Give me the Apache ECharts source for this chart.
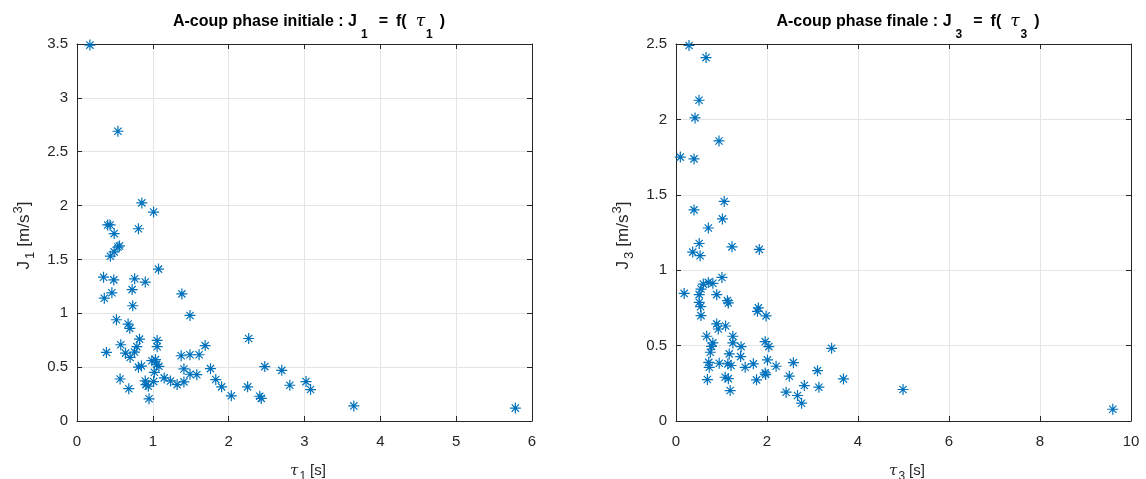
<!DOCTYPE html>
<html>
<head>
<meta charset="utf-8">
<script src="https://cdn.jsdelivr.net/npm/echarts@6/dist/echarts.min.js"></script>
<style>
html,body{margin:0;padding:0;background:#fff;}
#c{width:1146px;height:479px;}
</style>
</head>
<body>
<div id="c"></div>
<script>
// Left: initial phase
const tau1 = [0.17, 0.54, 0.855, 1.01, 0.405, 0.436, 0.49, 0.81, 0.54, 0.56,
  0.49, 0.44, 1.075, 0.35, 0.485, 0.76, 0.9, 0.46, 0.727, 0.36,
  0.735, 1.383, 1.49, 0.52, 0.674, 0.696, 2.264, 1.057, 0.824, 1.057,
  0.577, 1.69, 0.388, 0.79, 0.758, 0.64, 0.70, 1.374, 1.49, 1.61,
  0.987, 1.035, 0.81, 0.85, 1.05, 1.08, 1.02, 2.476, 1.76, 1.41,
  2.70, 1.49, 1.58, 0.568, 1.15, 1.233, 0.9, 1.01, 1.83, 1.32,
  1.41, 0.91, 0.94, 2.806, 3.02, 3.08, 0.683, 1.907, 2.25, 2.035,
  2.41, 2.43, 0.95, 3.65, 5.78];
const j1 = [3.49, 2.69, 2.025, 1.94, 1.82, 1.82, 1.74, 1.785, 1.615, 1.625,
  1.57, 1.53, 1.41, 1.335, 1.31, 1.32, 1.29, 1.19, 1.22, 1.14,
  1.07, 1.18, 0.98, 0.94, 0.90, 0.86, 0.766, 0.748, 0.76, 0.69,
  0.708, 0.70, 0.637, 0.69, 0.64, 0.63, 0.59, 0.606, 0.615, 0.615,
  0.56, 0.57, 0.50, 0.51, 0.526, 0.508, 0.452, 0.505, 0.486, 0.483,
  0.47, 0.434, 0.43, 0.39, 0.40, 0.372, 0.372, 0.366, 0.385, 0.338,
  0.363, 0.338, 0.323, 0.332, 0.366, 0.292, 0.30, 0.317, 0.317, 0.234,
  0.23, 0.21, 0.206, 0.14, 0.12];

// Right: final phase
const tau3 = [0.286, 0.66, 0.506, 0.418, 0.945, 0.095, 0.396, 1.06, 0.396, 1.02,
  0.71, 0.51, 0.367, 0.53, 1.23, 1.83, 1.01, 0.18, 0.6, 0.71,
  0.81, 0.55, 0.51, 0.895, 0.51, 0.54, 1.13, 1.15, 0.55, 1.81,
  1.79, 1.98, 0.895, 0.93, 1.09, 0.675, 1.25, 1.25, 0.81, 0.78,
  1.43, 1.96, 2.04, 0.754, 1.17, 1.42, 3.42, 0.72, 0.73, 0.95,
  1.14, 1.21, 1.52, 1.70, 2.01, 2.20, 2.58, 1.96, 1.97, 3.11,
  3.68, 0.69, 1.08, 1.15, 1.77, 2.49, 2.82, 3.14, 1.19, 2.42,
  2.67, 2.76, 4.99, 9.60];
const j3 = [2.49, 2.41, 2.127, 2.01, 1.857, 1.75, 1.738, 1.456, 1.40, 1.34,
  1.28, 1.177, 1.12, 1.096, 1.155, 1.138, 0.952, 0.846, 0.908, 0.919,
  0.913, 0.875, 0.838, 0.838, 0.787, 0.758, 0.798, 0.783, 0.699, 0.75,
  0.727, 0.697, 0.644, 0.61, 0.63, 0.562, 0.562, 0.518, 0.518, 0.495,
  0.493, 0.526, 0.493, 0.456, 0.445, 0.427, 0.482, 0.389, 0.356, 0.383,
  0.379, 0.368, 0.356, 0.379, 0.405, 0.363, 0.387, 0.319, 0.308, 0.334,
  0.279, 0.275, 0.29, 0.281, 0.273, 0.297, 0.235, 0.224, 0.202, 0.191,
  0.169, 0.118, 0.209, 0.078];

const xTicks1 = {min: 0, max: 6, interval: 1};
const yTicks1 = {min: 0, max: 3.5, interval: 0.5};
const xTicks3 = {min: 0, max: 10, interval: 2};
const yTicks3 = {min: 0, max: 2.5, interval: 0.5};

const FONT = 'Liberation Sans, Arial, Helvetica, sans-serif';
const DARK = '#262626';
const GRIDC = '#e4e4e4';
const BLUE = '#0072BD';
const STAR = 'path://M0 50L100 50M50 0L50 100M17 17L83 83M83 17L17 83';

const richX = {
  n: {fontFamily: FONT, fontSize: 15, color: DARK, padding: [0, 0, 0, 4]},
  t: {fontFamily: 'DejaVu Serif, serif', fontSize: 15, color: DARK, fontStyle: 'italic'},
  sub: {fontFamily: FONT, fontSize: 12, color: DARK, padding: [12, 0, 0, 1]}
};
const richY = {
  n: {fontFamily: FONT, fontSize: 17, color: DARK},
  m: {fontFamily: FONT, fontSize: 17, color: DARK, padding: [0, 0, 0, 5]},
  e: {fontFamily: FONT, fontSize: 17, color: DARK, padding: [0, 6, 0, 0]},
  sub: {fontFamily: FONT, fontSize: 13, color: DARK, padding: [12, 0, 0, 2]},
  sup: {fontFamily: FONT, fontSize: 13, color: DARK, padding: [0, 0, 12, 1]}
};
const TB = {fontFamily: FONT, fontSize: 16, fontWeight: 'bold', color: '#000', lineHeight: 20};
const richTitle = {
  b: TB,
  eq: Object.assign({}, TB, {padding: [0, 0, 0, 11]}),
  fp: Object.assign({}, TB, {padding: [0, 0, 0, 8]}),
  t: {fontFamily: 'DejaVu Serif, serif', fontSize: 17, fontStyle: 'italic', fontWeight: 'normal', color: '#000', lineHeight: 20, padding: [0, 0, 0, 9]},
  p: Object.assign({}, TB, {padding: [0, 0, 0, 7]}),
  sub: {fontFamily: FONT, fontSize: 12, fontWeight: 'bold', color: '#000', lineHeight: 14, padding: [26, 0, 0, 4]},
  sub2: {fontFamily: FONT, fontSize: 12, fontWeight: 'bold', color: '#000', lineHeight: 14, padding: [26, 0, 0, 1]}
};

function mainX(gi, t, name) {
  return {
    gridIndex: gi, type: 'value', position: 'bottom',
    min: t.min, max: t.max, interval: t.interval,
    name: name, nameLocation: 'middle', nameGap: 38,
    nameTextStyle: {rich: richX, padding: [0, 0, 0, 7]},
    axisLine: {show: true, onZero: false, lineStyle: {color: DARK, width: 1}},
    axisTick: {show: true, inside: true, length: 5, lineStyle: {color: DARK}},
    axisLabel: {color: DARK, fontFamily: FONT, fontSize: 15, margin: 13},
    splitLine: {show: true, lineStyle: {color: GRIDC, width: 1}}
  };
}
function topX(gi, t) {
  return {
    gridIndex: gi, type: 'value', position: 'top',
    min: t.min, max: t.max, interval: t.interval,
    axisLine: {show: true, onZero: false, lineStyle: {color: DARK, width: 1}},
    axisTick: {show: true, inside: true, length: 5, lineStyle: {color: DARK}},
    axisLabel: {show: false}, splitLine: {show: false}
  };
}
function mainY(gi, t, name) {
  return {
    gridIndex: gi, type: 'value', position: 'left',
    min: t.min, max: t.max, interval: t.interval,
    name: name, nameLocation: 'middle', nameGap: 40, nameRotate: 90,
    nameTextStyle: {rich: richY},
    axisLine: {show: true, onZero: false, lineStyle: {color: DARK, width: 1}},
    axisTick: {show: true, inside: true, length: 5, lineStyle: {color: DARK}},
    axisLabel: {color: DARK, fontFamily: FONT, fontSize: 15, margin: 9},
    splitLine: {show: true, lineStyle: {color: GRIDC, width: 1}}
  };
}
function rightY(gi, t) {
  return {
    gridIndex: gi, type: 'value', position: 'right',
    min: t.min, max: t.max, interval: t.interval,
    axisLine: {show: true, onZero: false, lineStyle: {color: DARK, width: 1}},
    axisTick: {show: true, inside: true, length: 5, lineStyle: {color: DARK}},
    axisLabel: {show: false}, splitLine: {show: false}
  };
}

const chart = echarts.init(document.getElementById('c'), null, {renderer: 'canvas'});
chart.setOption({
  backgroundColor: '#fff',
  animation: false,
  title: [
    {text: '{b|A-coup phase initiale : J}{sub|1}{eq|=}{fp|f(}{t|τ}{sub2|1}{p|)}',
     left: 309, top: 12, padding: 0, textAlign: 'center', textStyle: {rich: richTitle}},
    {text: '{b|A-coup phase finale : J}{sub|3}{eq|=}{fp|f(}{t|τ}{sub2|3}{p|)}',
     left: 908, top: 12, padding: 0, textAlign: 'center', textStyle: {rich: richTitle}}
  ],
  grid: [
    {left: 77, top: 44, width: 455, height: 377, outerBoundsMode: 'none', containLabel: false},
    {left: 676, top: 44, width: 455, height: 377, outerBoundsMode: 'none', containLabel: false}
  ],
  xAxis: [
    mainX(0, xTicks1, '{t|τ}{sub|1}{n|[s]}'),
    topX(0, xTicks1),
    mainX(1, xTicks3, '{t|τ}{sub|3}{n|[s]}'),
    topX(1, xTicks3)
  ],
  yAxis: [
    mainY(0, yTicks1, '{n|J}{sub|1}{m|[m/s}{sup|3}{e|]}'),
    rightY(0, yTicks1),
    mainY(1, yTicks3, '{n|J}{sub|3}{m|[m/s}{sup|3}{e|]}'),
    rightY(1, yTicks3)
  ],
  series: [
    {type: 'scatter', xAxisIndex: 0, yAxisIndex: 0,
     data: tau1.map((v, i) => [v, j1[i]]),
     symbol: STAR, symbolSize: 11,
     itemStyle: {color: 'rgba(0,0,0,0)', borderColor: BLUE, borderWidth: 1.2, opacity: 1}},
    {type: 'scatter', xAxisIndex: 2, yAxisIndex: 2,
     data: tau3.map((v, i) => [v, j3[i]]),
     symbol: STAR, symbolSize: 11,
     itemStyle: {color: 'rgba(0,0,0,0)', borderColor: BLUE, borderWidth: 1.2, opacity: 1}}
  ]
});
</script>
</body>
</html>
